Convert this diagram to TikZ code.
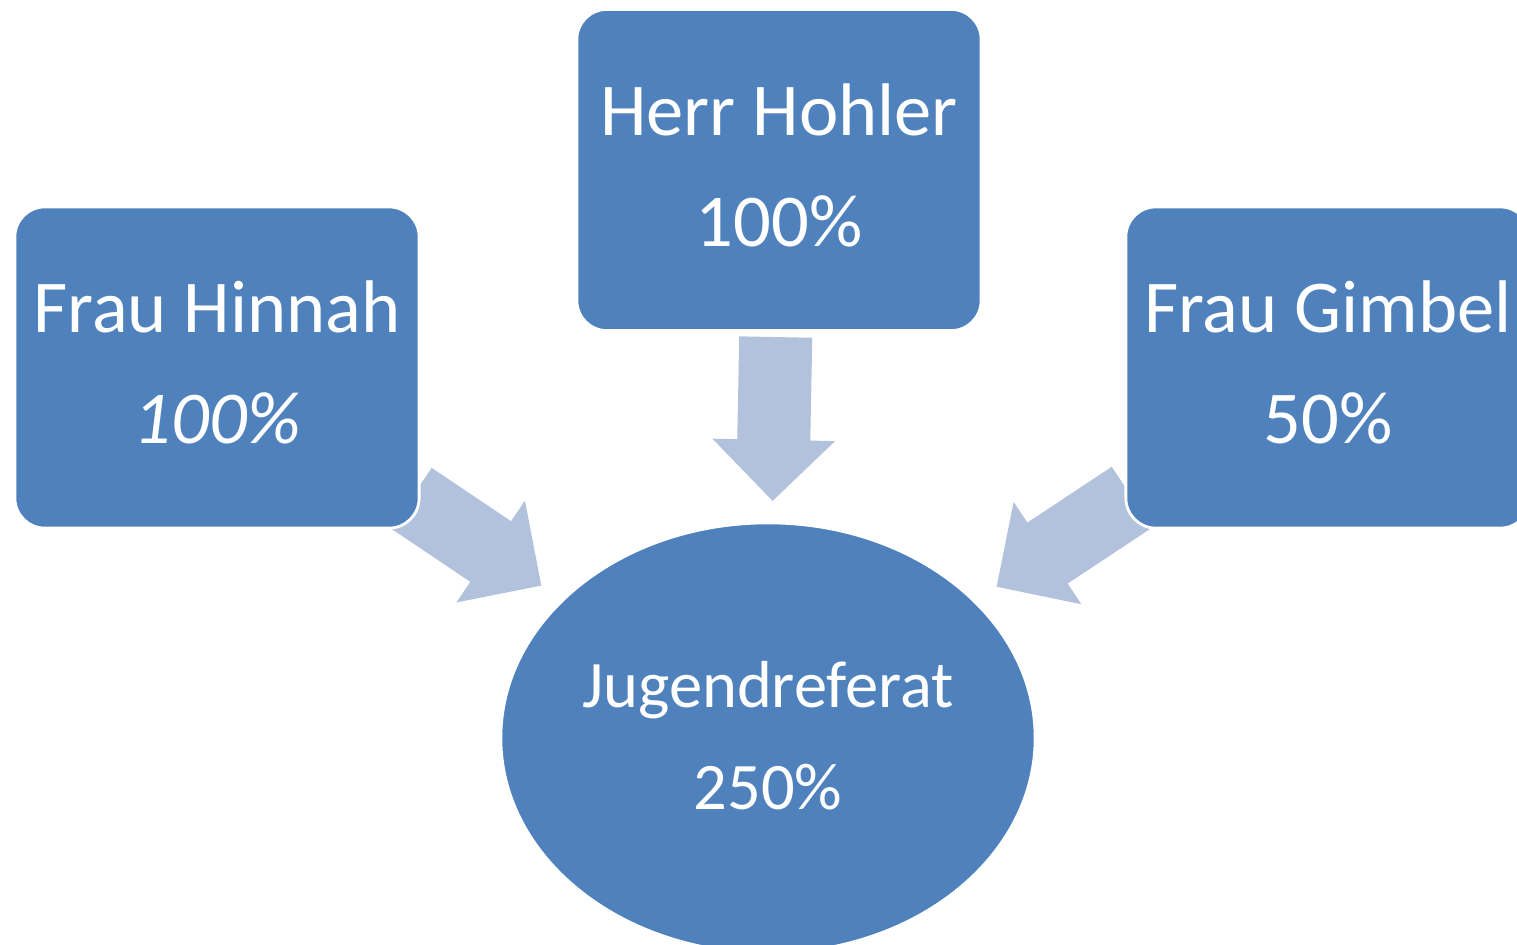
\documentclass[tikz,border=0pt]{standalone}
\usepackage{fontspec}
\setmainfont{Carlito}
\usetikzlibrary{calc,shapes.geometric,arrows.meta,backgrounds}
\definecolor{boxblue}{HTML}{4F81BD}
\definecolor{arrowblue}{HTML}{B2C2DD}

\begin{document}
\begin{tikzpicture}[x = 0.01cm, y = -0.01cm,
  personbox/.style = {draw = white, line width = 0.8pt, fill = boxblue, rounded corners = 0.3cm,
    minimum width = 4.04cm, minimum height = 3.21cm, inner sep = 2pt, text depth = 3pt,
    text = white, align = center, font = \fontsize{21.2}{31.6}\selectfont},
  unitellipse/.style = {ellipse, draw = white, line width = 0.8pt, fill = boxblue,
    minimum width = 5.34cm, minimum height = 4.30cm, inner sep = 0pt, text depth = 1.5pt,
    text = white, align = center, font = \fontsize{18.9}{29}\selectfont},
  blockarrow/.style = {arrowblue, line width = 0.73cm,
    -{Triangle[width = 1.22cm, length = 0.61cm, line width = 1pt]}}]
\useasboundingbox (0,0) rectangle (1517,945);
% the three people
\node [personbox] (hohler) at (779,170) {Herr Hohler\\100\%};
\node [personbox] (hinnah) at (217,367.5) {Frau Hinnah\\\textit{100\%}};
\node [personbox] (gimbel) at (1328,367.5) {Frau Gimbel\\50\%};
% the unit
\node [unitellipse] (jugend) at (768,738) {Jugendreferat\\250\%};
% arrows behind the boxes
\begin{scope}[on background layer]
\draw [blockarrow, shorten <= 1.67cm, shorten >= 2.37cm] (hohler.center) -- (jugend.center);
\draw [blockarrow, shorten <= 2.34cm, shorten >= 2.73cm] (hinnah.center) -- (jugend.center);
\draw [blockarrow, shorten <= 2.35cm, shorten >= 2.74cm] (gimbel.center) -- (jugend.center);
\end{scope}
\end{tikzpicture}
\end{document}
